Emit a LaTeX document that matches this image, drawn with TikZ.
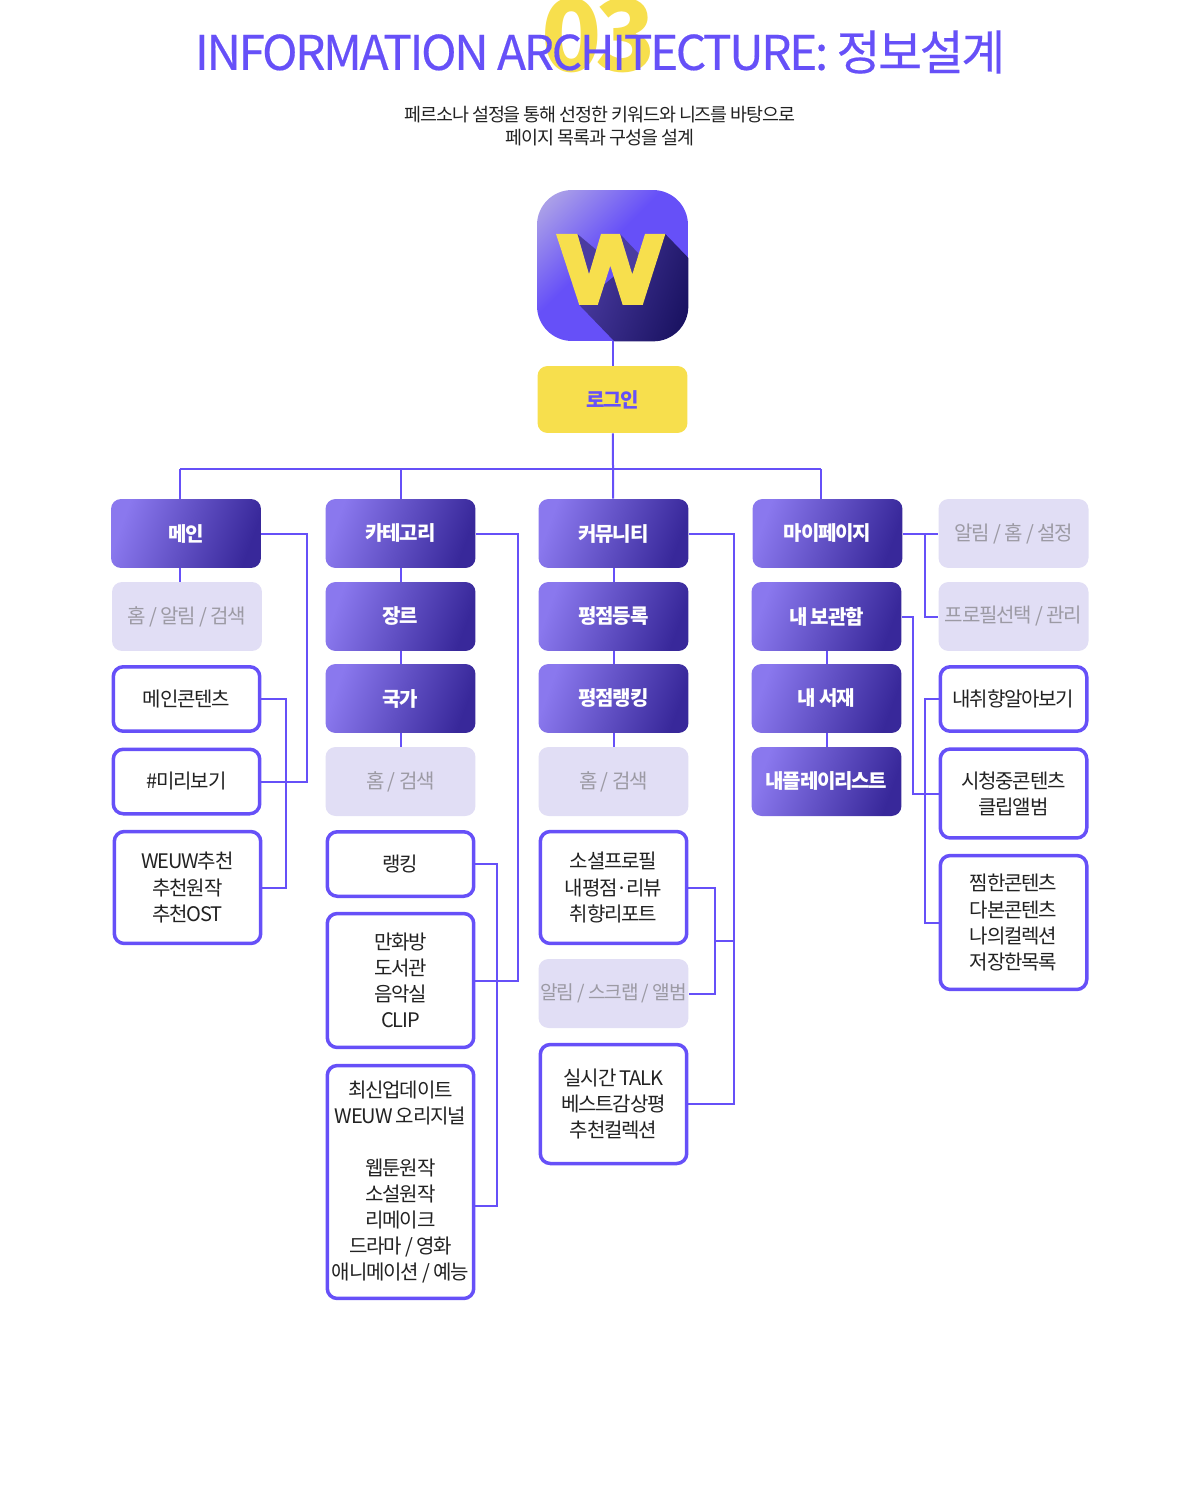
\documentclass[tikz,border=0pt]{standalone}
\usepackage{fontspec}
\setmainfont[LetterSpace=-6]{Noto Sans CJK KR}
\newfontfamily\titlefont[LetterSpace=-5,FakeBold=0.35]{Noto Sans CJK KR}
\definecolor{wpurple}{HTML}{6650F8}
\definecolor{wlight}{HTML}{8A78EE}
\definecolor{wdark}{HTML}{38289A}
\definecolor{wyellow}{HTML}{F7DF4D}
\definecolor{wlilac}{HTML}{E1DEF5}
\definecolor{wgrey}{HTML}{9C9AA4}
\definecolor{wtext}{HTML}{222222}
\definecolor{wglow}{HTML}{A99EE8}
\definecolor{wshadeA}{HTML}{4A3BA0}
\definecolor{wshadeB}{HTML}{17105E}
\pgfdeclarehorizontalshading{iconglow}{100bp}{color(0bp)=(wglow); color(20bp)=(wglow); color(44bp)=(wpurple); color(100bp)=(wpurple)}
\tikzset{
  boxbase/.style={minimum width=3cm, minimum height=1.38cm, inner sep=0pt, rounded corners=0.2cm, align=center,
    font=\fontsize{11.4}{14.8}\selectfont},
  boxhead/.style={boxbase, left color=wlight, middle color=wpurple, right color=wdark, shading angle=70,
    text=white, font=\fontsize{11.4}{14.8}\selectfont\bfseries},
  boxgrey/.style={boxbase, fill=wlilac, text=wgrey},
  boxline/.style={boxbase, draw=wpurple, line width=0.07cm, fill=white, text=wtext, minimum width=2.93cm, minimum height=1.29cm},
  wire/.style={draw=wpurple, line width=0.04cm},
}
\begin{document}
\begin{tikzpicture}[x=0.02cm, y=-0.02cm]
  \useasboundingbox (0,0) rectangle (1200,1500);

  % Heading
  \node[text=wyellow, font=\fontsize{56.5}{60}\selectfont\bfseries] (num) at (598.5,35) {03};
  \node[text=wpurple, font=\fontsize{27.2}{30}\selectfont\titlefont] (title) at (600,52) {INFORMATION ARCHITECTURE: 정보설계};
  \node[text=wtext, align=center, font=\fontsize{10.5}{13.1}\selectfont] (intro) at (600,126.5) {페르소나 설정을 통해 선정한 키워드와 니즈를 바탕으로\\페이지 목록과 구성을 설계};

  % App icon
  \node[minimum size=3.02cm, inner sep=0pt, rounded corners=0.7cm, shading=iconglow, shading angle=-45] (icon) at (612.5,265.5) {};
  \begin{scope}
    \clip[rounded corners=0.7cm] (icon.south west) rectangle (icon.north east);
    \shade[left color=wshadeA, right color=wshadeB, shading angle=70]
      (579.3,305) -- (616,343) -- (700,343) -- (700,270) -- (665.3,234) -- cycle;
    \fill[wshadeA] (577.3,234) -- (596.5,250) -- (589,274.3) -- cycle;
    \fill[wshadeA] (620,234) -- (638.5,253.5) -- (632.3,274.3) -- cycle;
    \fill[wyellow] (556,234) -- (577.3,234) -- (589,274.3) -- (601,234) -- (620,234) -- (632.3,274.3)
      -- (645,234) -- (665.3,234) -- (642.7,305) -- (622.7,305) -- (610.3,265.7) -- (597.7,305) -- (579.3,305) -- cycle;
  \end{scope}
  \node[boxbase, fill=wyellow, text=wpurple, minimum height=1.34cm, font=\fontsize{11.4}{14.8}\selectfont\bfseries] (login) at (612.5,399.5) {로그인};

  % Column 1
  \node[boxhead] (main) at (186,533.5) {메인};
  \node[boxgrey] (mainbar) at (187,616.5) {홈 / 알림 / 검색};
  \node[boxline] (maincont) at (186.5,699) {메인콘텐츠};
  \node[boxline] (mainprev) at (186.5,781.5) {\#미리보기};
  \node[boxline, minimum height=2.24cm] (mainrec) at (187.5,887.5) {WEUW추천\\추천원작\\추천OST};

  % Column 2
  \node[boxhead] (cate) at (400.5,533.5) {카테고리};
  \node[boxhead] (genre) at (400.5,616.5) {장르};
  \node[boxhead] (nation) at (400.5,698.5) {국가};
  \node[boxgrey] (catebar) at (400.5,781.5) {홈 / 검색};
  \node[boxline] (rank) at (400.5,864) {랭킹};
  \node[boxline, minimum height=2.68cm] (place) at (400.5,980.5) {만화방\\도서관\\음악실\\CLIP};
  \node[boxline, minimum height=4.66cm] (fresh) at (400.5,1182) {최신업데이트\\WEUW 오리지널\\~\\웹툰원작\\소설원작\\리메이크\\드라마 / 영화\\애니메이션 / 예능};

  % Column 3
  \node[boxhead] (comm) at (613.5,533.5) {커뮤니티};
  \node[boxhead] (rate) at (613.5,616.5) {평점등록};
  \node[boxhead] (ratetop) at (613.5,698.5) {평점랭킹};
  \node[boxgrey] (commbar) at (613.5,781.5) {홈 / 검색};
  \node[boxline, minimum height=2.24cm] (social) at (613.5,887.5) {소셜프로필\\내평점·리뷰\\취향리포트};
  \node[boxgrey, font=\fontsize{10.9}{14.8}\selectfont] (alarm) at (613.5,993.5) {알림 / 스크랩 / 앨범};
  \node[boxline, minimum height=2.38cm] (talk) at (613.5,1104) {실시간 TALK\\베스트감상평\\추천컬렉션};

  % Column 4
  \node[boxhead] (mypage) at (827.5,533.5) {마이페이지};
  \node[boxhead] (locker) at (826.5,616.5) {내 보관함};
  \node[boxhead] (shelf) at (826.5,698.5) {내 서재};
  \node[boxhead] (plist) at (826.5,781.5) {내플레이리스트};

  % Column 5
  \node[boxgrey] (mybar) at (1013.5,533.5) {알림 / 홈 / 설정};
  \node[boxgrey] (profile) at (1013.5,616.5) {프로필선택 / 관리};
  \node[boxline] (taste) at (1013.5,699) {내취향알아보기};
  \node[boxline, minimum height=1.78cm] (watch) at (1013.5,793.5) {시청중콘텐츠\\클립앨범};
  \node[boxline, minimum height=2.68cm] (saved) at (1013.5,922.5) {찜한콘텐츠\\다본콘텐츠\\나의컬렉션\\저장한목록};

  % Rails
  \coordinate (bus) at (613,469);
  \coordinate (busA) at (180,469);
  \coordinate (busD) at (821,469);
  \coordinate (railA) at (307,0);
  \coordinate (railB) at (286,0);
  \coordinate (railC) at (518,0);
  \coordinate (railD) at (497,0);
  \coordinate (railE) at (734,0);
  \coordinate (railF) at (715,0);
  \coordinate (railG) at (925,0);
  \coordinate (railH) at (913,0);
  \coordinate (freshtap) at (475,1206);
  \coordinate (socialtap) at (715,941);

  % Tree
  \draw[wire] (icon) -- (login);
  \draw[wire] (login) -- (comm);
  \draw[wire] (busA) -- (busD);
  \draw[wire] (busA) -- (busA |- main.north);
  \draw[wire] (bus -| cate) -- (cate);
  \draw[wire] (busD) -- (busD |- mypage.north);

  % Column 1 wires
  \draw[wire] (busA |- main.south) -- (busA |- mainbar.north);
  \draw[wire] (main.east) -- (railA |- main.east) -- (railA |- mainprev.east) -- (mainprev.east);
  \draw[wire] (maincont.east) -- (railB |- maincont.east) -- (railB |- mainrec.east) -- (mainrec.east);

  % Column 2 wires
  \draw[wire] (cate) -- (genre);
  \draw[wire] (genre) -- (nation);
  \draw[wire] (nation) -- (catebar);
  \draw[wire] (cate.east) -- (railC |- cate.east) -- (railC |- place.east) -- (place.east);
  \draw[wire] (rank.east) -- (railD |- rank.east) -- (railD |- freshtap) -- (freshtap);

  % Column 3 wires
  \draw[wire] (comm) -- (rate);
  \draw[wire] (rate) -- (ratetop);
  \draw[wire] (ratetop) -- (commbar);
  \draw[wire] (comm.east) -- (railE |- comm.east) -- (railE |- talk.east) -- (talk.east);
  \draw[wire] (social.east) -- (railF |- social.east) -- (railF |- alarm.east) -- (alarm.east);
  \draw[wire] (socialtap) -- (railE |- socialtap);

  % Column 4 wires
  \draw[wire] (locker) -- (shelf);
  \draw[wire] (shelf) -- (plist);
  \draw[wire] (mypage.east) -- (mybar.west);
  \draw[wire] (railG |- mypage.east) -- (railG |- profile.west) -- (profile.west);
  \draw[wire] (locker.east) -- (railH |- locker.east) -- (railH |- watch.west) -- (watch.west);
  \draw[wire] (taste.west) -- (railG |- taste.west) -- (railG |- saved.west) -- (saved.west);
\end{tikzpicture}
\end{document}
